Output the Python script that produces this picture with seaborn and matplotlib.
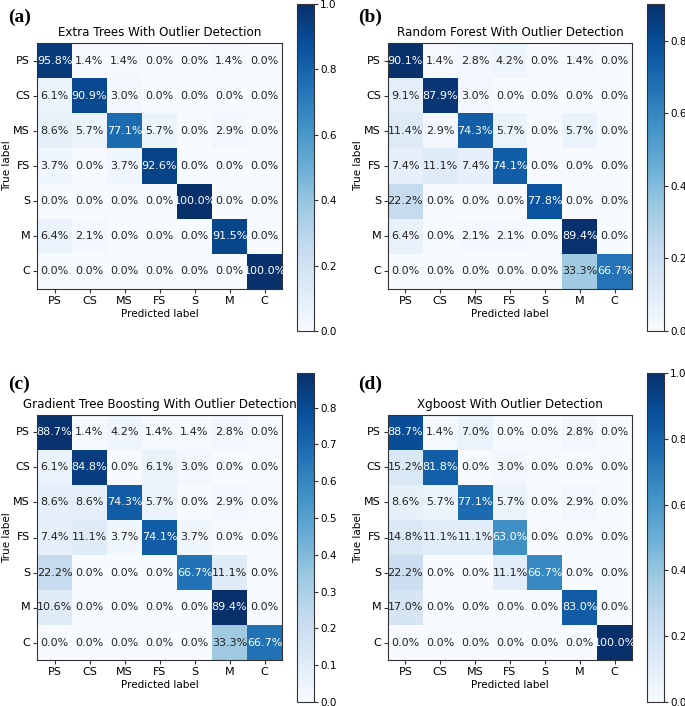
import seaborn as sns
import pandas as pd
import matplotlib.pyplot as plt
import numpy as np

classes = ['PS', 'CS', 'MS', 'FS', 'S', 'M', 'C']

# percentages
extra_trees = [
    [95.8, 1.4, 1.4, 0.0, 0.0, 1.4, 0.0],
    [6.1, 90.9, 3.0, 0.0, 0.0, 0.0, 0.0],
    [8.6, 5.7, 77.1, 5.7, 0.0, 2.9, 0.0],
    [3.7, 0.0, 3.7, 92.6, 0.0, 0.0, 0.0],
    [0.0, 0.0, 0.0, 0.0, 100.0, 0.0, 0.0],
    [6.4, 2.1, 0.0, 0.0, 0.0, 91.5, 0.0],
    [0.0, 0.0, 0.0, 0.0, 0.0, 0.0, 100.0],
]
random_forest = [
    [90.1, 1.4, 2.8, 4.2, 0.0, 1.4, 0.0],
    [9.1, 87.9, 3.0, 0.0, 0.0, 0.0, 0.0],
    [11.4, 2.9, 74.3, 5.7, 0.0, 5.7, 0.0],
    [7.4, 11.1, 7.4, 74.1, 0.0, 0.0, 0.0],
    [22.2, 0.0, 0.0, 0.0, 77.8, 0.0, 0.0],
    [6.4, 0.0, 2.1, 2.1, 0.0, 89.4, 0.0],
    [0.0, 0.0, 0.0, 0.0, 0.0, 33.3, 66.7],
]
gradient_boosting = [
    [88.7, 1.4, 4.2, 1.4, 1.4, 2.8, 0.0],
    [6.1, 84.8, 0.0, 6.1, 3.0, 0.0, 0.0],
    [8.6, 8.6, 74.3, 5.7, 0.0, 2.9, 0.0],
    [7.4, 11.1, 3.7, 74.1, 3.7, 0.0, 0.0],
    [22.2, 0.0, 0.0, 0.0, 66.7, 11.1, 0.0],
    [10.6, 0.0, 0.0, 0.0, 0.0, 89.4, 0.0],
    [0.0, 0.0, 0.0, 0.0, 0.0, 33.3, 66.7],
]
xgboost = [
    [88.7, 1.4, 7.0, 0.0, 0.0, 2.8, 0.0],
    [15.2, 81.8, 0.0, 3.0, 0.0, 0.0, 0.0],
    [8.6, 5.7, 77.1, 5.7, 0.0, 2.9, 0.0],
    [14.8, 11.1, 11.1, 63.0, 0.0, 0.0, 0.0],
    [22.2, 0.0, 0.0, 11.1, 66.7, 0.0, 0.0],
    [17.0, 0.0, 0.0, 0.0, 0.0, 83.0, 0.0],
    [0.0, 0.0, 0.0, 0.0, 0.0, 0.0, 100.0],
]

titles = ['Extra Trees With Outlier Detection',
          'Random Forest With Outlier Detection',
          'Gradient Tree Boosting With Outlier Detection',
          'Xgboost With Outlier Detection']
letters = ['(a)', '(b)', '(c)', '(d)']
matrices = [extra_trees, random_forest, gradient_boosting, xgboost]

W, H = 685, 706
fig = plt.figure(figsize=(W / 100, H / 100), dpi=100)

def frac(x0, y0, x1, y1):
    # pixel box -> figure fraction
    return [x0 / W, 1 - y1 / H, (x1 - x0) / W, (y1 - y0) / H]

# heatmap boxes and colorbar boxes (pixels)
hm_boxes = [(37, 43, 282, 289), (388, 43, 632, 289),
            (37, 415, 282, 660), (388, 415, 632, 660)]
cb_boxes = [(297, 4, 314, 331), (647, 4, 664, 331),
            (297, 373, 314, 702), (647, 373, 664, 702)]
letter_pos = [(8, 17), (358, 17), (8, 384), (358, 384)]

for i in range(4):
    cm = np.array(matrices[i]) / 100.0
    df = pd.DataFrame(cm, index=classes, columns=classes)
    ax = fig.add_axes(frac(*hm_boxes[i]))
    cax = fig.add_axes(frac(*cb_boxes[i]))
    sns.heatmap(df, ax=ax, cbar_ax=cax, cmap='Blues', vmin=0, vmax=cm.max(),
                annot=False, square=False)
    thresh = cm.max() / 2
    for r in range(7):
        for c in range(7):
            ax.text(c + 0.5, r + 0.5, f'{cm[r, c] * 100:.1f}%',
                    ha='center', va='center', fontsize=8,
                    color='white' if cm[r, c] > thresh else '#222222')
    for s in ax.spines.values():
        s.set_visible(True)
        s.set_color('#333333')
        s.set_linewidth(0.8)
    ax.tick_params(axis='both', labelsize=8, length=3, width=0.8,
                   color='#333333', pad=2)
    ax.set_yticklabels(classes, rotation=0)
    ax.set_xticklabels(classes, rotation=0)
    ax.set_title(titles[i], fontsize=8.6, pad=5)
    ax.set_xlabel('Predicted label', fontsize=7.5, labelpad=2)
    ax.set_ylabel('True label', fontsize=7.5, labelpad=1)
    cax.tick_params(labelsize=7.5, length=3, width=0.8, color='#333333', pad=1.5)
    cb = ax.collections[0].colorbar
    cb.outline.set_visible(True)
    cb.outline.set_edgecolor('#333333')
    cb.outline.set_linewidth(0.8)
    fig.text(letter_pos[i][0] / W, 1 - letter_pos[i][1] / H, letters[i],
             family='Liberation Serif', fontweight='bold', fontsize=14,
             ha='left', va='center')

fig.savefig('out.png', dpi=100)
